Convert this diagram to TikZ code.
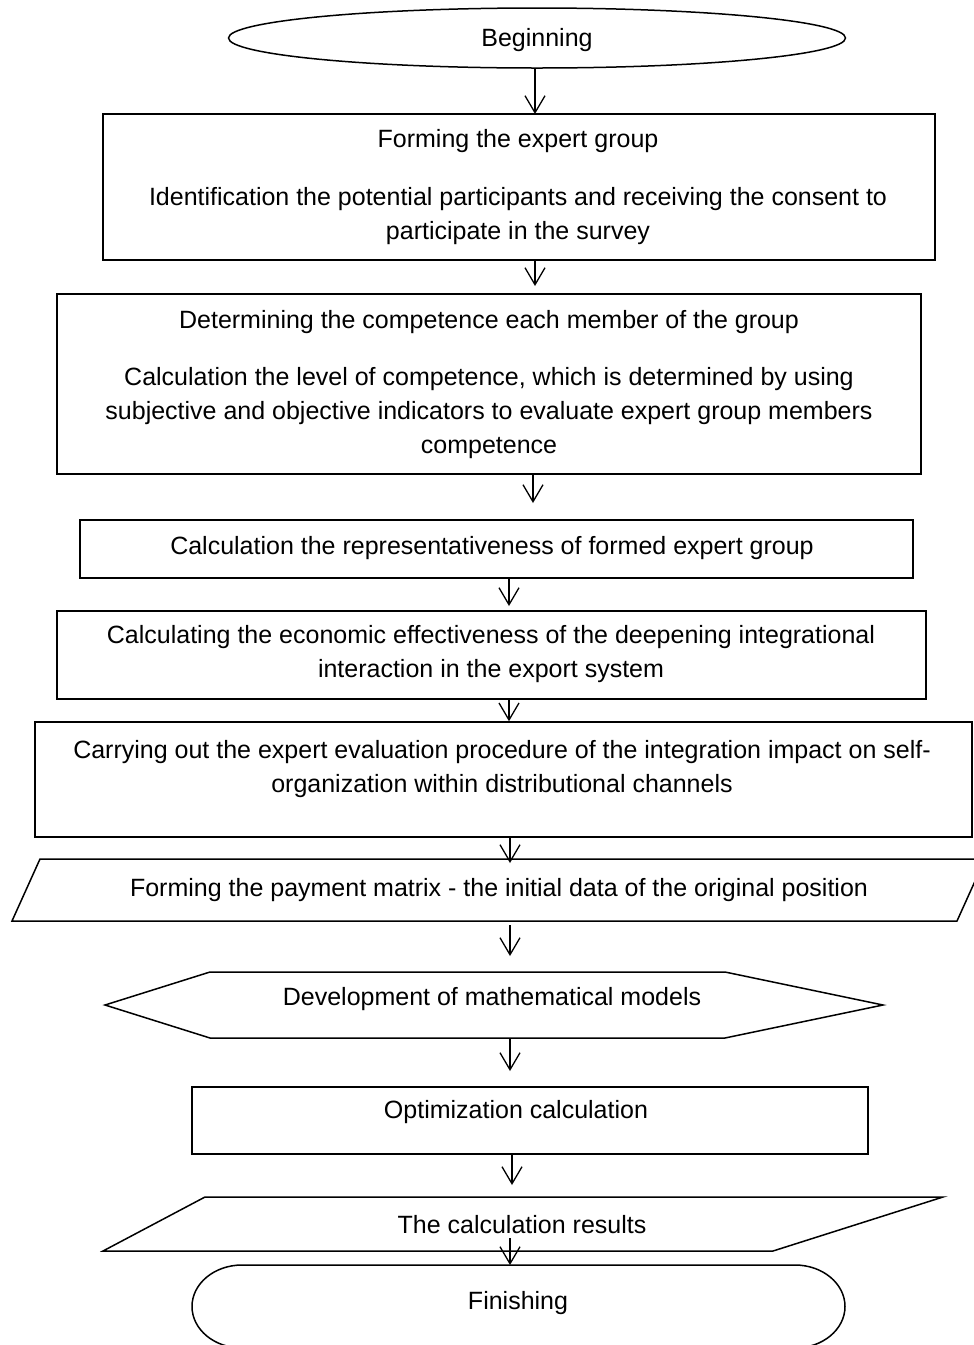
\documentclass[tikz,border=0pt]{standalone}
\usepackage{fontspec}
\setmainfont{Liberation Sans}
\usetikzlibrary{arrows.meta,shapes.geometric}
\begin{document}
\begin{tikzpicture}[x=1pt,y=-1pt,
  shp/.style={draw=black,line width=1.5pt,inner sep=0pt},
  lbl/.style={font=\fontsize{25}{34}\selectfont,align=center,inner sep=0pt,yshift=-2pt},
  arr/.style={line width=1.3pt,-{Straight Barb[length=17pt,width=20pt]}},
  ]
\useasboundingbox (0,0) rectangle (974,1345);
% shapes
\node[shp, ellipse, minimum width=617pt, minimum height=60pt] (start) at (537,38) {};
\node[shp, rectangle, minimum width=832pt, minimum height=146pt] (b1) at (519,187) {};
\node[shp, rectangle, minimum width=864pt, minimum height=180pt] (b2) at (489,384) {};
\node[shp, rectangle, minimum width=833pt, minimum height=58pt] (b3) at (496.5,549) {};
\node[shp, rectangle, minimum width=869pt, minimum height=88pt] (b4) at (491.5,655) {};
\node[shp, rectangle, minimum width=937pt, minimum height=115pt] (b5) at (503.5,779.5) {};
\coordinate (p1a) at (40,859);
\coordinate (p1b) at (985,859);
\coordinate (p1c) at (957,921);
\coordinate (p1d) at (12,921);
\draw[shp] (p1a) -- (p1b) -- (p1c) -- (p1d) -- cycle;
\coordinate (h1) at (105,1005);
\coordinate (h2) at (210,972);
\coordinate (h3) at (725,972);
\coordinate (h4) at (883,1005);
\coordinate (h5) at (725,1038);
\coordinate (h6) at (210,1038);
\draw[shp] (h1) -- (h2) -- (h3) -- (h4) -- (h5) -- (h6) -- cycle;
\node[shp, rectangle, minimum width=676pt, minimum height=67pt] (opt) at (530,1120.5) {};
\coordinate (p2a) at (205,1197);
\coordinate (p2b) at (943,1197);
\coordinate (p2c) at (773,1251);
\coordinate (p2d) at (103,1251);
\draw[shp] (p2a) -- (p2b) -- (p2c) -- (p2d) -- cycle;
\coordinate (f1) at (242,1265);
\coordinate (f2) at (795,1265);
\draw[shp] (f1) -- (f2) arc[start angle=-90, end angle=90, x radius=50, y radius=41.5]
  -- (242,1348) arc[start angle=90, end angle=270, x radius=50, y radius=41.5] -- cycle;
% texts
\node[lbl] (t0) at (537,38) {Beginning};
\node[lbl] (t1a) at (518,139) {Forming the expert group};
\node[lbl] (t1b) at (518,214) {Identification the potential participants and receiving the consent to\\participate in the survey};
\node[lbl] (t2a) at (489,320) {Determining the competence each member of the group};
\node[lbl] (t2b) at (489,411) {Calculation the level of competence, which is determined by using\\subjective and objective indicators to evaluate expert group members\\competence};
\node[lbl] (t3) at (492,546) {Calculation the representativeness of formed expert group};
\node[lbl] (t4) at (491,652) {Calculating the economic effectiveness of the deepening integrational\\interaction in the export system};
\node[lbl] (t5) at (502,767) {Carrying out the expert evaluation procedure of the integration impact on self-\\organization within distributional channels};
\node[lbl] (t6) at (499,888) {Forming the payment matrix - the initial data of the original position};
\node[lbl] (t7) at (492,997) {Development of mathematical models};
\node[lbl] (t8) at (516,1110) {Optimization calculation};
\node[lbl] (t9) at (522,1223) {The calculation results};
\node[lbl] (t10) at (518,1301) {Finishing};
% connectors
\coordinate (e1) at (535,114);
\coordinate (e2) at (535,286);
\coordinate (e3) at (533,503);
\coordinate (e4) at (509,606);
\coordinate (e5) at (509,722);
\coordinate (e6) at (510,863);
\coordinate (s7) at (510,925);
\coordinate (e7) at (510,956);
\coordinate (e8) at (510,1071);
\coordinate (e9) at (512,1185);
\coordinate (s10) at (510,1238);
\draw[arr] (start.south -| e1) -- (e1);
\draw[arr] (b1.south -| e2) -- (e2);
\draw[arr] (b2.south -| e3) -- (e3);
\draw[arr] (b3.south -| e4) -- (e4);
\draw[arr] (b4.south -| e5) -- (b5.north -| e5);
\draw[arr] (b5.south -| e6) -- (e6);
\draw[arr] (s7) -- (e7);
\draw[arr] (h5 -| e8) -- (e8);
\draw[arr] (opt.south -| e9) -- (e9);
\draw[arr] (s10) -- (s10 |- f1);
\end{tikzpicture}
\end{document}
